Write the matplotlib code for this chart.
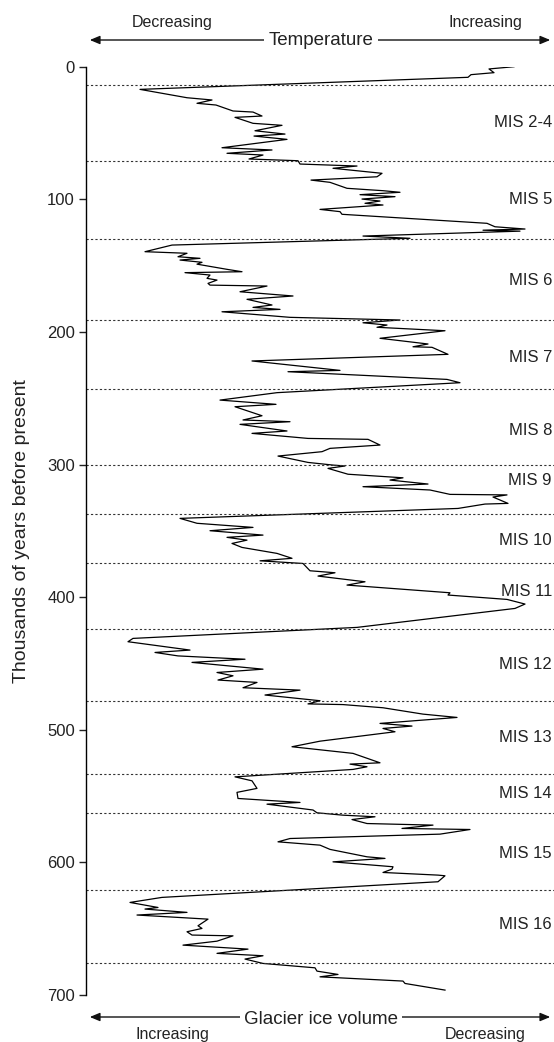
import matplotlib
matplotlib.use("Agg")
import matplotlib.pyplot as plt
from matplotlib.patches import FancyArrowPatch

plt.rcParams['font.family'] = ['Liberation Sans', 'DejaVu Sans']

# age (kyr BP) and relative temperature index
age = [0, 1.7, 4.5, 6.0, 8.0, 17.1, 23.4, 25.1, 27.6, 28.9, 33.4, 34.2, 37.2, 38.2,
       42.7, 44.2, 48.3, 50.8, 52.3, 54.8, 61.1, 62.8, 65.3, 66.6, 69.6, 70.9, 73.4,
       74.9, 76.6, 80.4, 83.0, 85.5, 87.2, 91.7, 93.5, 94.7, 96.5, 98.0, 99.8, 101.3,
       103.0, 104.3, 107.6, 109.3, 111.3, 118.1, 120.7, 122.4, 123.3, 124.0, 127.7,
       129.4, 134.5, 139.5, 140.7, 143.3, 144.5, 145.8, 147.5, 148.9, 152.8, 154.6,
       155.3, 157.1, 159.6, 160.9, 163.4, 164.7, 165.4, 169.7, 172.9, 175.4, 179.7,
       181.5, 183.0, 184.8, 189.0, 191.0, 193.1, 194.8, 196.5, 199.1, 204.8, 209.1,
       211.2, 211.6, 216.9, 221.9, 229.0, 230.0, 235.8, 238.3, 245.8, 251.4, 254.6,
       256.4, 263.2, 266.4, 267.7, 269.7, 274.7, 276.5, 280.3, 281.0, 285.3, 287.8,
       290.3, 293.6, 298.4, 300.4, 301.1, 302.9, 307.3, 310.0, 311.7, 314.7, 316.7,
       319.2, 322.5, 322.9, 324.5, 329.3, 329.8, 333.1, 340.6, 344.3, 347.4, 349.9,
       353.2, 354.9, 357.0, 359.5, 362.5, 367.0, 370.7, 372.6, 374.6, 380.1, 381.6,
       384.1, 388.4, 390.9, 396.7, 398.4, 401.7, 405.2, 408.5, 422.8, 431.1, 433.6,
       439.9, 441.7, 444.3, 446.8, 449.2, 454.3, 456.8, 459.3, 462.5, 464.3, 468.3,
       470.1, 473.8, 478.1, 480.5, 481.0, 483.4, 488.2, 490.7, 495.2, 497.2, 499.0,
       501.5, 508.6, 512.8, 517.8, 524.9, 525.9, 527.9, 529.9, 535.5, 538.5, 544.2,
       547.2, 551.8, 554.8, 556.1, 560.5, 562.6, 564.4, 565.6, 567.7, 570.7, 571.9,
       574.4, 575.2, 578.7, 582.0, 584.5, 587.0, 590.2, 595.8, 597.0, 599.6, 603.3,
       605.1, 607.6, 609.6, 610.1, 614.6, 626.4, 630.2, 634.0, 635.2, 637.7, 639.7,
       642.8, 647.8, 649.8, 652.3, 654.8, 655.4, 659.4, 662.4, 665.4, 668.6, 670.4,
       672.9, 676.2, 679.5, 682.0, 684.5, 686.3, 689.5, 691.3, 696.3]
temp = [428, 403, 408, 385, 382, 54, 101, 126, 111, 130, 147, 167, 176, 149,
        167, 196, 169, 199, 168, 201, 136, 186, 141, 177, 163, 212, 214,
        271, 247, 296, 291, 225, 244, 261, 297, 314, 274, 309, 276, 294,
        279, 297, 234, 254, 256, 401, 409, 439, 397, 434, 277,
        324, 86, 59, 101, 92, 114, 94, 116, 111, 141, 156,
        99, 124, 121, 131, 122, 124, 181, 154, 207, 161, 186,
        167, 194, 136, 204, 314, 277, 301, 291, 359, 294, 342,
        327, 346, 362, 166, 254, 202, 361, 374, 191, 134, 190,
        149, 176, 157, 204, 154, 201, 166, 222, 282, 294, 244,
        236, 192, 222, 247, 259, 242, 262, 317, 304, 342, 277,
        344, 364, 421, 407, 422, 399, 372, 94, 111, 167, 124,
        177, 141, 161, 146, 156, 191, 206, 174, 217, 224, 249,
        232, 279, 261, 364, 362, 421, 439, 429, 271, 47, 42,
        104, 69, 92, 159, 106, 177, 131, 147, 132, 171, 157,
        214, 179, 234, 222, 257, 297, 337, 371, 294, 326, 297,
        309, 234, 206, 267, 294, 264, 281, 267, 149, 166, 171,
        151, 152, 214, 181, 227, 231, 257, 289, 266, 281, 347,
        316, 384, 354, 204, 192, 234, 244, 281, 299, 247, 307,
        306, 297, 352, 359, 352, 76, 44, 72, 59, 101, 51,
        122, 112, 116, 101, 106, 147, 131, 97, 162, 131, 177,
        159, 177, 229, 231, 252, 234, 317, 319, 359]

boundaries = [14, 71, 130, 191, 243, 300, 337, 374, 424, 478, 533, 563, 621, 676]
stages = ['MIS 2-4', 'MIS 5', 'MIS 6', 'MIS 7', 'MIS 8', 'MIS 9', 'MIS 10',
          'MIS 11', 'MIS 12', 'MIS 13', 'MIS 14', 'MIS 15', 'MIS 16']
stage_ages = [42, 100, 161, 219, 274, 312, 357, 396, 451, 506, 548, 593, 647]

fig = plt.figure(figsize=(5.54, 10.42), dpi=100)
ax = fig.add_axes([86 / 554, 1 - 995 / 1042, 1 - 86 / 554, (995 - 66.7) / 1042])

ax.plot(temp, age, color='black', lw=0.9)
for b in boundaries:
    ax.axhline(b, color='#333333', lw=0.8, ls=(0, (2, 2)))
for s, a in zip(stages, stage_ages):
    ax.text(466, a, s, ha='right', va='center', fontsize=12, color='#222222')

ax.set_xlim(0, 468)
ax.set_ylim(700, 0)
ax.set_yticks(range(0, 701, 100))
ax.set_xticks([])
for side in ['top', 'right', 'bottom']:
    ax.spines[side].set_visible(False)
ax.spines['left'].set_linewidth(1.0)
ax.tick_params(axis='y', length=5, width=1.0, pad=3, labelsize=12, colors='#222222')
ax.set_ylabel('Thousands of years before present', fontsize=14, color='#222222', labelpad=12)

# direction arrows above and below the plot
for y in [1 - 40 / 1042, 1 - 1017 / 1042]:
    arr = FancyArrowPatch((87 / 554, y), (553 / 554, y), transform=fig.transFigure,
                          arrowstyle='<|-|>,head_length=6,head_width=2.5',
                          color='#111111', lw=1.0)
    fig.add_artist(arr)

box = dict(facecolor='white', edgecolor='none', pad=3)
fig.text(321 / 554, 1 - 45 / 1042, 'Temperature', ha='center', va='baseline',
         fontsize=13.5, color='#222222', bbox=box)
fig.text(321 / 554, 1 - 1024 / 1042, 'Glacier ice volume', ha='center', va='baseline',
         fontsize=13.5, color='#222222', bbox=box)
fig.text(172 / 554, 1 - 27.5 / 1042, 'Decreasing', ha='center', va='baseline', fontsize=11.5, color='#222222')
fig.text(485 / 554, 1 - 27.5 / 1042, 'Increasing', ha='center', va='baseline', fontsize=11.5, color='#222222')
fig.text(172 / 554, 1 - 1039 / 1042, 'Increasing', ha='center', va='baseline', fontsize=11.5, color='#222222')
fig.text(485 / 554, 1 - 1039 / 1042, 'Decreasing', ha='center', va='baseline', fontsize=11.5, color='#222222')

fig.savefig('out.png', dpi=100)
